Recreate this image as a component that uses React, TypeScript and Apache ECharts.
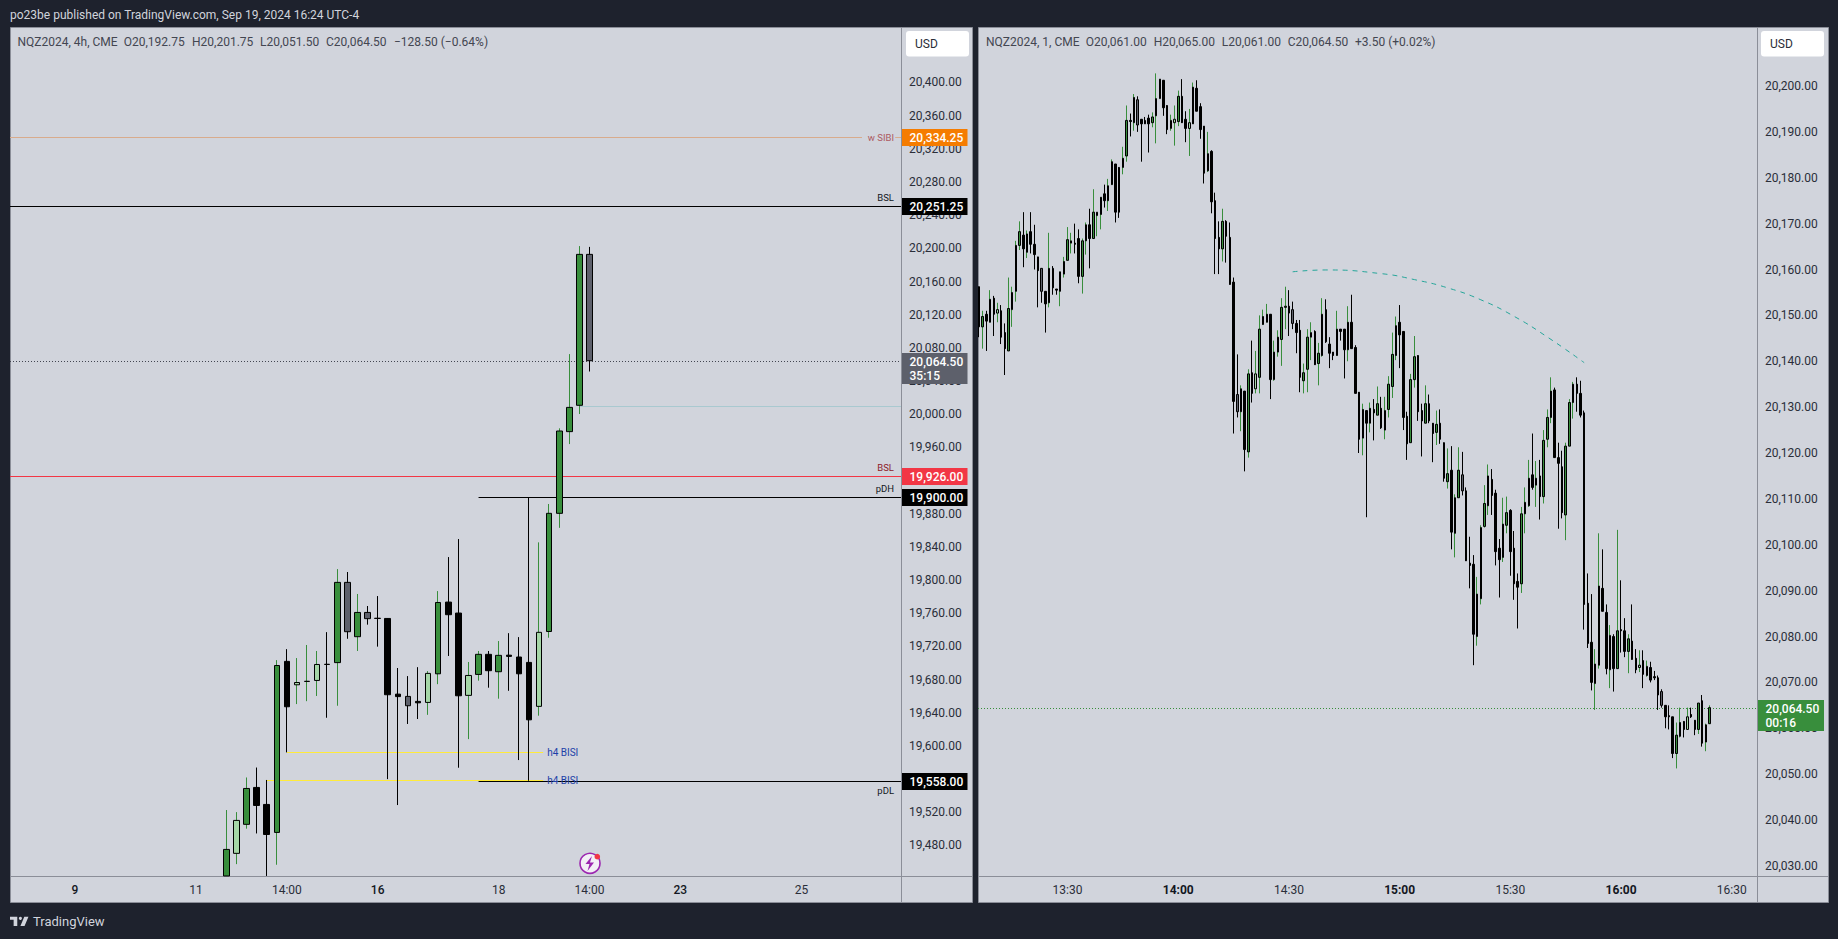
import React, { useEffect, useRef } from "react";
import * as echarts from "echarts";

// [open, high, low, close, kind]  G dark green, L light green, K black, Y grey
const fourHourBars: any[] = [
  [19443.25,19522.75,19443.25,19475.25,"G"],[19470.5,19520.25,19457.5,19510.25,"L"],[19505.5,19562,19500.25,19548.75,"G"],[19550,19574,19494.5,19528.25,"K"],
  [19529.5,19559,19443.25,19493.25,"K"],[19495.75,19703.5,19456.75,19697,"G"],[19702,19716.75,19592.25,19647.25,"K"],[19673.75,19706,19650.5,19676.5,"L"],
  [19677.75,19721.75,19654,19678,"G"],[19679,19714.5,19660.25,19698.25,"L"],[19698.5,19737.25,19634,19698.25,"K"],[19700.5,19813.25,19648.5,19797.25,"G"],
  [19797.25,19809.75,19729.25,19737.75,"Y"],[19731.75,19783.25,19714.5,19761,"G"],[19761,19768.75,19746.25,19753.5,"Y"],[19754,19780.75,19719.75,19753.75,"K"],
  [19753.75,19753.75,19560,19661.75,"K"],[19662.5,19694,19528.75,19659.5,"K"],[19659.75,19684.25,19626.5,19648.5,"Y"],[19653.75,19695,19632.5,19652,"K"],
  [19652.5,19690.25,19637.5,19687.5,"L"],[19687,19786.75,19674.5,19773,"G"],[19773.5,19827.75,19708.5,19758.25,"K"],[19760.25,19849.5,19573.75,19660.5,"K"],
  [19661,19701.25,19608.25,19685,"L"],[19686.25,19714.5,19678.75,19710.5,"G"],[19710.5,19714.5,19670.25,19690.75,"K"],[19689.5,19726.5,19657,19709.25,"G"],
  [19709.5,19736,19666.5,19708,"K"],[19707.25,19731.25,19583,19687,"K"],[19700.75,19900,19558,19631.5,"K"],[19647.75,19845.5,19636.5,19737,"L"],
  [19738,19891.75,19730.5,19880.5,"G"],[19880.5,19983,19863,19979.75,"G"],[19979,20072.5,19964,20008.25,"G"],[20010.75,20202.75,20000.25,20192.75,"G"],
  [20192.75,20201.75,20051.5,20064.5,"Y"],
];

const minuteBars: any[] = [
  [20156.25,20156.25,20145.25,20147.5,"K"],[20147.5,20151,20142.75,20149.75,"G"],[20150.25,20151,20142.25,20148.75,"K"],[20148.5,20155.5,20148.5,20153.5,"G"],[20153.75,20154.25,20145.5,20150.25,"K"],
  [20150.5,20152.75,20148.5,20151.25,"L"],[20151,20152.25,20143.75,20145.25,"K"],[20146.25,20148.25,20137,20142.75,"K"],[20142.25,20158.25,20142.25,20151.5,"G"],[20151.25,20156.25,20147.5,20155,"L"],
  [20155.25,20166.25,20153,20165.25,"G"],[20165.25,20170.5,20164.25,20168.25,"G"],[20167.5,20172.5,20160.5,20164.5,"K"],[20163.75,20168.5,20162.5,20167.75,"L"],[20168.25,20172.5,20163.5,20165.5,"K"],
  [20165.5,20169.75,20160,20163.25,"K"],[20162.75,20162.75,20151.75,20159.75,"K"],[20160.25,20160.25,20152.75,20155.25,"Y"],[20155.25,20155.25,20146.25,20152.5,"K"],[20152.75,20168,20151.75,20160.25,"G"],
  [20160.25,20160.75,20154.5,20156,"Y"],[20155.75,20155.75,20154.5,20155.5,"K"],[20155.25,20159.5,20152,20159.5,"G"],[20159,20162.75,20158.25,20161.75,"G"],[20162,20169.25,20162,20166.5,"G"],
  [20165.75,20168,20163.5,20166.25,"L"],[20165.75,20170,20163.5,20165.5,"K"],[20166.75,20168.75,20157,20158.5,"K"],[20158.5,20166.75,20154.75,20166.25,"G"],[20166.25,20170.25,20163.25,20169.75,"G"],
  [20169.75,20173.25,20160.25,20166.75,"K"],[20166.75,20177.5,20166.75,20172.5,"G"],[20171.75,20172.5,20167.25,20172.5,"L"],[20172,20175.75,20168.75,20175.75,"G"],[20176.5,20178.5,20173.5,20175,"K"],
  [20175,20179.75,20172.75,20178.25,"G"],[20178.5,20184,20178.5,20183.5,"G"],[20183,20183,20170.25,20172.5,"K"],[20182.25,20182.25,20171.25,20172.5,"K"],[20182.25,20186.75,20180.75,20184.25,"G"],
  [20184.75,20195.75,20183.5,20192.5,"G"],[20192.5,20194,20189,20192.25,"K"],[20192,20198.25,20190.25,20197.5,"G"],[20197,20197.75,20190,20191.5,"Y"],[20192.75,20192.75,20183.5,20191.75,"K"],
  [20192.5,20193.25,20191.75,20191.75,"Y"],[20193,20193.75,20185.5,20191.75,"K"],[20192,20194.25,20191,20193.25,"G"],[20193.5,20202.75,20187.5,20197.25,"G"],[20197.25,20201.5,20197.25,20201.5,"L"],
  [20201.25,20201.25,20193.5,20195.25,"K"],[20195.75,20195.75,20189.5,20190.5,"K"],[20190.75,20193.75,20190.25,20192.5,"L"],[20192,20195.75,20187,20192.75,"L"],[20192.25,20199,20191.25,20197.75,"G"],
  [20197.75,20201.5,20192,20192,"K"],[20192.75,20194.5,20187.75,20190.75,"K"],[20190.75,20195,20184.75,20192,"L"],[20191.75,20200.75,20191.75,20199.75,"G"],[20199.5,20201.25,20194.5,20194.5,"K"],
  [20195.5,20196.25,20188.5,20190.5,"K"],[20191.25,20191.25,20178.75,20181,"K"],[20181.5,20190,20181.25,20185.25,"L"],[20185.75,20186,20172.25,20174.75,"K"],[20175,20176.75,20159,20166.75,"K"],
  [20167,20170.5,20159,20164.5,"K"],[20164.5,20173.25,20161.75,20170.5,"G"],[20170.5,20170.75,20161.5,20167.25,"K"],[20167,20170.25,20156.75,20156.75,"K"],[20157.25,20158.25,20124.25,20131.25,"K"],
  [20132.75,20141.5,20127.75,20129,"Y"],[20129,20134.75,20124.75,20134,"G"],[20133.5,20133.5,20116,20120.75,"K"],[20120.25,20138.25,20119,20137.25,"G"],[20137.5,20144.5,20131,20133,"K"],
  [20134,20142.25,20133,20137.25,"L"],[20136.5,20150,20133,20147,"G"],[20148,20151.25,20148,20149.75,"G"],[20148.5,20152.5,20148.5,20150.25,"G"],[20150.25,20150.25,20131.75,20136,"K"],
  [20136,20144.5,20135.75,20142,"L"],[20142,20146.75,20141,20145.25,"G"],[20144.75,20153.75,20139,20151.75,"G"],[20151.75,20156.25,20147,20152,"G"],[20152,20155.5,20145.5,20150.5,"K"],
  [20151.25,20153,20147,20148.25,"Y"],[20148.25,20149,20141.75,20146.25,"K"],[20146.75,20149,20133.25,20136.5,"K"],[20135.75,20139.5,20133,20137.5,"G"],[20138.25,20147,20133.25,20145.25,"G"],
  [20145.25,20148.5,20140.25,20146.25,"L"],[20146.5,20146.75,20139.25,20139.25,"K"],[20139.5,20144,20134.75,20141.75,"G"],[20141.25,20153.75,20141,20150.25,"G"],[20151.25,20153.5,20144,20144.25,"Y"],
  [20143.75,20145.25,20138.5,20141.75,"K"],[20142,20142,20140.25,20141.25,"K"],[20141.25,20151,20141.25,20147,"G"],[20147,20147,20144.5,20146.5,"K"],[20147,20147,20136.25,20142.5,"K"],
  [20142.5,20152,20140,20148.5,"G"],[20148.5,20154.5,20142.75,20142.75,"K"],[20143,20143.5,20133,20133,"K"],[20133.25,20133.25,20120,20123,"K"],[20123.25,20130.75,20119.5,20129.5,"G"],
  [20129.25,20129.25,20106,20126.5,"K"],[20126.5,20131,20124.5,20129.75,"G"],[20129.5,20131.75,20122.75,20128.75,"K"],[20128.25,20134.5,20128.25,20130.75,"G"],[20129.75,20132.25,20125.25,20125.5,"K"],
  [20125,20132.25,20123,20129.25,"G"],[20129.5,20136.75,20127.75,20135,"G"],[20134.5,20146.25,20132,20141.5,"G"],[20141.25,20149.75,20140.25,20147.75,"G"],[20148.5,20152.25,20138.5,20145.75,"K"],
  [20146.5,20146.5,20125,20127.75,"K"],[20128,20129,20118.5,20122,"K"],[20122.25,20137.25,20122.25,20136,"G"],[20136,20145.5,20134.25,20141,"G"],[20141.25,20141.25,20127,20129,"K"],
  [20129.25,20130.75,20119.25,20127,"K"],[20126.5,20134.75,20126.5,20130.75,"G"],[20130.75,20132.75,20126.5,20127,"Y"],[20126.5,20126.5,20118,20124.25,"K"],[20124.5,20129.25,20121.75,20126.25,"G"],
  [20126.5,20129.5,20122,20123,"K"],[20122.25,20122.25,20113.75,20114.5,"K"],[20113.75,20121,20112.25,20115.5,"G"],[20116.25,20121.5,20099,20102.75,"K"],[20102.5,20111,20097.25,20110.25,"G"],
  [20110.25,20121.25,20110.25,20116.25,"G"],[20115.25,20120.25,20110.75,20111.75,"Y"],[20111.75,20112.5,20096.5,20096.5,"K"],[20096,20101.75,20090.5,20095.5,"K"],[20095.75,20097.75,20073.75,20080.5,"K"],
  [20080,20093,20078,20089.25,"L"],[20088.25,20104.25,20087,20103.75,"G"],[20104,20113,20103.75,20109,"G"],[20108.5,20117.5,20106.5,20115,"G"],[20114.25,20116.5,20106.5,20110.75,"K"],
  [20111.25,20112,20095.5,20098.5,"K"],[20099.25,20101.25,20088.5,20096.75,"K"],[20097.25,20110.25,20096.25,20104.5,"G"],[20104.25,20110.5,20102.5,20107,"G"],[20107.5,20107.75,20093.25,20098.5,"K"],
  [20099.25,20103,20088,20091.5,"K"],[20092,20093.75,20081.75,20090.75,"K"],[20091.5,20108.25,20089.5,20106.75,"G"],[20106.75,20112.5,20102.5,20109.25,"G"],[20108.5,20118.5,20108.25,20114.5,"G"],
  [20115.25,20124.25,20112,20112.5,"K"],[20113,20118.25,20108.25,20114.5,"G"],[20115,20118.5,20105.5,20110.5,"K"],[20110.5,20125,20109,20122.75,"G"],[20123,20129.5,20121.25,20127.75,"G"],
  [20127.75,20136.5,20126.5,20133.5,"G"],[20133.75,20134.25,20119,20119,"K"],[20119,20122.25,20103.5,20117.75,"K"],[20117,20120.5,20105.75,20107,"K"],[20106.5,20122.25,20101,20121.5,"G"],
  [20121.5,20131.75,20121.5,20131,"G"],[20131,20135.5,20127.5,20135,"G"],[20135,20136.5,20129,20133,"K"],[20133,20135.75,20127.75,20128.25,"K"],[20128.75,20129.25,20081.5,20087,"K"],
  [20087.25,20093.75,20077.5,20078.5,"K"],[20078.75,20089.25,20068.25,20070,"K"],[20069.75,20077.25,20064,20074,"L"],[20073.75,20102.5,20073,20091,"G"],[20090.5,20099,20085.5,20085.5,"K"],
  [20085.25,20087,20071.75,20073,"K"],[20072.75,20082.5,20068.75,20080.25,"L"],[20080,20080.5,20068,20073,"K"],[20073,20103.25,20073,20081.25,"G"],[20081.5,20092.25,20076.5,20081.25,"K"],
  [20081.25,20084,20075.5,20076.75,"K"],[20076.75,20080.5,20072,20079.5,"G"],[20079,20087,20075,20075,"K"],[20075.25,20077.25,20072,20072.75,"K"],[20073.25,20077,20072.25,20073.75,"L"],
  [20074.75,20077,20068.75,20071.75,"K"],[20071.5,20074.75,20071.25,20073.5,"L"],[20073.25,20074.5,20070,20070.5,"K"],[20071.25,20072.5,20070.5,20071,"K"],[20071,20071.5,20064,20067.25,"K"],
  [20068,20068.5,20064.5,20065,"Y"],[20065,20065,20060,20062.5,"K"],[20062.75,20065,20059.75,20062.5,"K"],[20062.5,20062.5,20053.5,20054.5,"K"],[20054.5,20061.25,20051.25,20058.5,"G"],
  [20058.25,20064.5,20058,20061.25,"G"],[20061.5,20061.5,20058,20059.75,"K"],[20059.75,20064.5,20059.75,20062.5,"L"],[20063,20064.5,20062.25,20062.5,"K"],[20061.75,20061.75,20058.5,20059.75,"K"],
  [20059.75,20065.5,20058.75,20065.5,"G"],[20066,20067.25,20056,20056.75,"K"],[20057,20061,20055,20060.75,"G"],[20061,20065,20061,20064.5,"G"],
];

const leftPriceTicks = [20400,20360,20320,20280,20240,20200,20160,20120,20080,20040,20000,19960,19880,19840,19800,19760,19720,19680,19640,19600,19520,19480];
const rightPriceTicks = [20200,20190,20180,20170,20160,20150,20140,20130,20120,20110,20100,20090,20080,20070,20060,20050,20040,20030];
const leftTimeTicks = [-15,-3,6,15,27,36,45,57];
const leftTimeLabels = ["9","11","14:00","16","18","14:00","23","25"];
const leftTimeBold = ["9","16","23"];
const rightTimeTicks = [24,54,84,114,144,174,204];
const rightTimeLabels = ["13:30","14:00","14:30","15:00","15:30","16:00","16:30"];
const rightTimeBold = ["14:00","15:00","16:00"];

// [from bar, to bar, price, text, kind]
const leftLevels: any[] = [
  [-21.44,63,20334.25,"","sibi"],[66.3,66.87,20334.25,"w SIBI","sibi"],
  [-21.44,66.87,20251.25,"BSL","black"],
  [-21.44,66.87,20064.5,"","dots"],
  [35,66.87,20009.5,"","pale"],
  [-21.44,66.87,19926,"BSL","red"],
  [25,66.87,19900,"pDH","black"],
  [25,66.87,19558,"pDL","blackLow"],
  [6,31.4,19592.25,"h4 BISI","yellow"],
  [4,31.4,19558.5,"h4 BISI","yellow"],
];
const rightLevels: any[] = [[-0.27,210.84,20064.5,"","greenDots"]];

const arcBars = [85,94,109,118,127,136,145,154,164];
const arcPrices = [20159.5,20159.9,20159.1,20157.8,20156,20153.4,20149.8,20145.3,20139.7];

// [price, first line, second line, colour kind]
const leftTags: any[] = [
  [20334.25,"20,334.25","","orange"],[20251.25,"20,251.25","","black"],[20064.5,"20,064.50","35:15","grey"],
  [19926,"19,926.00","","red"],[19900,"19,900.00","","black"],[19558,"19,558.00","","black"],
];
const rightTags: any[] = [[20064.5,"20,064.50","00:16","green"]];

const leftLegend = ["NQZ2024, 4h, CME","O20,192.75","H20,201.75","L20,051.50","C20,064.50","\u2212128.50 (\u22120.64%)"];
const rightLegend = ["NQZ2024, 1, CME","O20,061.00","H20,065.00","L20,061.00","C20,064.50","+3.50 (+0.02%)"];

const FONT = "Roboto, sans-serif";
const DARK = "#1e222d";
const PANEL = "#d1d4dc";
const EDGE = "#8b8e98";
const UP = "#388e3c";
const FILLS: any = { G: UP, L: "#a5d6a7", K: "#000000", Y: "#5d606b" };
const WICKS: any = { G: UP, L: UP, K: "#000000", Y: "#000000" };
const LEVEL_STYLES: any = {
  sibi: { stroke: "#d8ab8c", text: "#ad5a62", dy: 0, dash: null },
  black: { stroke: "#000000", text: "#131722", dy: -9, dash: null },
  blackLow: { stroke: "#000000", text: "#131722", dy: 9, dash: null },
  red: { stroke: "#f23645", text: "#8e1b28", dy: -9, dash: null },
  dots: { stroke: "#434651", text: "", dy: 0, dash: [1, 2] },
  pale: { stroke: "#a9c9d0", text: "", dy: 0, dash: null },
  yellow: { stroke: "#ffeb3b", text: "#1c3fa8", dy: 0, dash: null },
  greenDots: { stroke: UP, text: "", dy: 0, dash: [1, 2] },
};
const TAG_COLORS: any = { orange: "#f57c00", black: "#000000", grey: "#5d606b", red: "#f23645", green: UP };

const LOGO = "M14 6H0v6h7v12h7V6ZM28 24h-8l7.5-18h8L28 24Z";

function candleSeries(bars: any[], axis: number, bodyWidth: number) {
  const paint = (c: string, b: string) => ({ color: c, color0: c, borderColor: b, borderColor0: b, borderColorDoji: b, borderWidth: 1 });
  return [
    {
      type: "candlestick", xAxisIndex: axis, yAxisIndex: axis, barWidth: 0, silent: true, z: 3,
      data: bars.map((b, i) => ({ value: [i, b[2], b[2], b[2], b[1]], itemStyle: paint(WICKS[b[4]], WICKS[b[4]]) })),
    },
    {
      type: "candlestick", xAxisIndex: axis, yAxisIndex: axis, barWidth: bodyWidth, silent: true, z: 4,
      data: bars.map((b, i) => ({
        value: [i, b[0], b[3], Math.min(b[0], b[3]), Math.max(b[0], b[3])],
        itemStyle: paint(FILLS[b[4]], "#000000"),
      })),
    },
  ];
}

function levelSeries(levels: any[], axis: number, labelRight: number) {
  return {
    type: "custom", xAxisIndex: axis, yAxisIndex: axis, silent: true, z: 2,
    encode: { x: [0, 1], y: 2 },
    data: levels.map((l) => [l[0], l[1], l[2]]),
    renderItem: (params: any, api: any) => {
      const lvl = levels[params.dataIndex];
      const st = LEVEL_STYLES[lvl[4]];
      const a = api.coord([api.value(0), api.value(2)]);
      const b = api.coord([api.value(1), api.value(2)]);
      const y = Math.round(a[1]) + 0.5;
      const children: any[] = [
        { type: "line", shape: { x1: a[0], y1: y, x2: b[0], y2: y }, style: { stroke: st.stroke, lineWidth: 1, lineDash: st.dash } },
      ];
      if (lvl[3]) {
        const yellow = lvl[4] === "yellow";
        children.push({
          type: "text",
          style: {
            text: lvl[3],
            x: yellow ? b[0] + 4 : labelRight,
            y: y + st.dy,
            fill: st.text,
            font: `${yellow ? 10 : 9.5}px ${FONT}`,
            textAlign: yellow ? "left" : "right",
            textVerticalAlign: "middle",
          },
        });
      }
      return { type: "group", children };
    },
  };
}

function tagSeries(tags: any[], axis: number, edgeBar: number, width: number) {
  return {
    type: "custom", xAxisIndex: axis, yAxisIndex: axis, silent: true, z: 20, clip: false,
    encode: { x: 0, y: 1 },
    data: tags.map((t) => [edgeBar, t[0]]),
    renderItem: (params: any, api: any) => {
      const tag = tags[params.dataIndex];
      const p = api.coord([api.value(0), api.value(1)]);
      const y = Math.round(p[1]);
      const x = Math.round(p[0]) + 1;
      const two = !!tag[2];
      const text = (t: string, ty: number) => ({
        type: "text",
        style: { text: t, x: x + 7.5, y: ty, fill: "#ffffff", font: `500 12px ${FONT}`, textAlign: "left", textVerticalAlign: "middle" },
      });
      const children: any[] = [
        { type: "rect", shape: { x, y: y - 8, width, height: two ? 31 : 17 }, style: { fill: TAG_COLORS[tag[3]] } },
        text(tag[1], y + 0.5),
      ];
      if (two) children.push(text(tag[2], y + 15));
      return { type: "group", children };
    },
  };
}

function timeAxis(grid: number, min: number, max: number, ticks: number[], labels: string[], bold: string[], weight: any) {
  return {
    type: "value", gridIndex: grid, min, max, splitLine: { show: false }, axisLine: { show: false }, axisTick: { show: false },
    axisLabel: {
      customValues: ticks, margin: 8, color: "#2a2e39", fontFamily: FONT, fontSize: 12,
      formatter: (v: number) => {
        const s = labels[ticks.indexOf(v)] ?? "";
        return bold.includes(s) ? `{b|${s}}` : s;
      },
      rich: { b: { fontWeight: weight, fontFamily: FONT, fontSize: 12, color: "#131722" } },
    },
  };
}

function priceAxis(grid: number, min: number, max: number, ticks: number[]) {
  return {
    type: "value", gridIndex: grid, position: "right", min, max, splitLine: { show: false }, axisLine: { show: false }, axisTick: { show: false },
    axisLabel: {
      customValues: ticks, margin: 8, color: "#2a2e39", fontFamily: FONT, fontSize: 12,
      formatter: (v: number) => v.toLocaleString("en-US", { minimumFractionDigits: 2, maximumFractionDigits: 2 }),
    },
  };
}

function chrome() {
  const txt = (text: string, x: number, y: number, fill: string, size = 12, weight = "normal", z = 30) => ({
    type: "text", z, silent: true,
    style: { text, x, y, fill, font: `${weight} ${size}px ${FONT}`, textVerticalAlign: "middle" },
  });
  const ln = (x1: number, y1: number, x2: number, y2: number) => ({
    type: "line", z: 1, silent: true, shape: { x1, y1, x2, y2 }, style: { stroke: EDGE, lineWidth: 1 },
  });
  const panel = (x: number, w: number) => ({
    type: "rect", z: -1, silent: true, shape: { x: x + 0.5, y: 27.5, width: w, height: 875 },
    style: { fill: PANEL, stroke: EDGE, lineWidth: 1 },
  });
  const usd = (x: number) => [
    { type: "rect", z: 30, silent: true, shape: { x, y: 31, width: 63, height: 25.5, r: 3 }, style: { fill: "#ffffff" } },
    txt("USD", x + 9, 44, "#2a2e39"),
  ];
  const leftX = [17.5, 123.75, 192, 260, 326, 394];
  const rightX = [986, 1085.7, 1153.7, 1221.7, 1287.7, 1355];
  return [
    panel(10, 962), panel(978, 850),
    ln(901.5, 27, 901.5, 903), ln(10, 876.5, 973, 876.5),
    ln(1757.5, 27, 1757.5, 903), ln(978, 876.5, 1828, 876.5),
    txt("po23be published on TradingView.com, Sep 19, 2024 16:24 UTC-4", 10, 15, "#d1d4dc"),
    ...leftLegend.map((t, i) => txt(t, leftX[i], 42, "#434651")),
    ...rightLegend.map((t, i) => txt(t, rightX[i], 42, "#434651")),
    ...usd(906), ...usd(1761),
    { type: "tvLogo", z: 30, silent: true, x: 10, y: 913.6, scaleX: 0.52, scaleY: 0.52, style: { fill: "#d1d4dc" } },
    { type: "circle", z: 30, silent: true, shape: { cx: 20.4, cy: 918.3, r: 1.56 }, style: { fill: "#d1d4dc" } },
    txt("TradingView", 33, 921.5, "#d1d4dc", 13),
    { type: "circle", z: 30, silent: true, shape: { cx: 590, cy: 863.3, r: 10 }, style: { fill: "#f3f0f6", stroke: "#9c27b0", lineWidth: 1.6 } },
    { type: "polygon", z: 31, silent: true, shape: { points: [[592, 856], [585.5, 864], [589.5, 864], [587.5, 871], [594, 862.5], [590, 862.5]] }, style: { fill: "#9c27b0" } },
    { type: "circle", z: 32, silent: true, shape: { cx: 597.3, cy: 856.7, r: 2.8 }, style: { fill: "#f23645" } },
  ];
}

export default function App() {
  const ref = useRef<HTMLDivElement>(null);
  useEffect(() => {
    document.documentElement.style.overflow = "hidden";
    document.body.style.margin = "0";
    document.body.style.background = DARK;
    echarts.graphic.registerShape("tvLogo", echarts.graphic.extendPath(LOGO, {}) as any);
    const chart = echarts.init(ref.current!, undefined, { renderer: "svg" });
    chart.setOption({
      animation: false,
      backgroundColor: DARK,
      tooltip: { show: false },
      grid: [
        { left: 10, top: 27, width: 891, height: 849, containLabel: false },
        { left: 978, top: 27, width: 779, height: 849, containLabel: false },
      ],
      xAxis: [
        timeAxis(0, -21.44, 66.87, leftTimeTicks, leftTimeLabels, leftTimeBold, 500),
        timeAxis(1, -0.27, 210.84, rightTimeTicks, rightTimeLabels, rightTimeBold, "bold"),
      ],
      yAxis: [
        priceAxis(0, 19443.2, 20466.9, leftPriceTicks),
        priceAxis(1, 20027.8, 20212.86, rightPriceTicks),
      ],
      graphic: { elements: chrome() },
      series: [
        levelSeries(leftLevels, 0, 894),
        levelSeries(rightLevels, 1, 1750),
        ...candleSeries(fourHourBars, 0, 6),
        ...candleSeries(minuteBars, 1, 2),
        {
          type: "line", xAxisIndex: 1, yAxisIndex: 1, silent: true, z: 5, smooth: true, showSymbol: false,
          lineStyle: { color: "#26a69a", width: 1, type: [5, 5] },
          data: arcBars.map((b, i) => [b, arcPrices[i]]),
        },
        tagSeries(leftTags, 0, 66.87, 65.5),
        tagSeries(rightTags, 1, 210.84, 66),
      ],
    });
    return () => chart.dispose();
  }, []);
  return <div ref={ref} style={{ width: 1838, height: 939 }} />;
}
